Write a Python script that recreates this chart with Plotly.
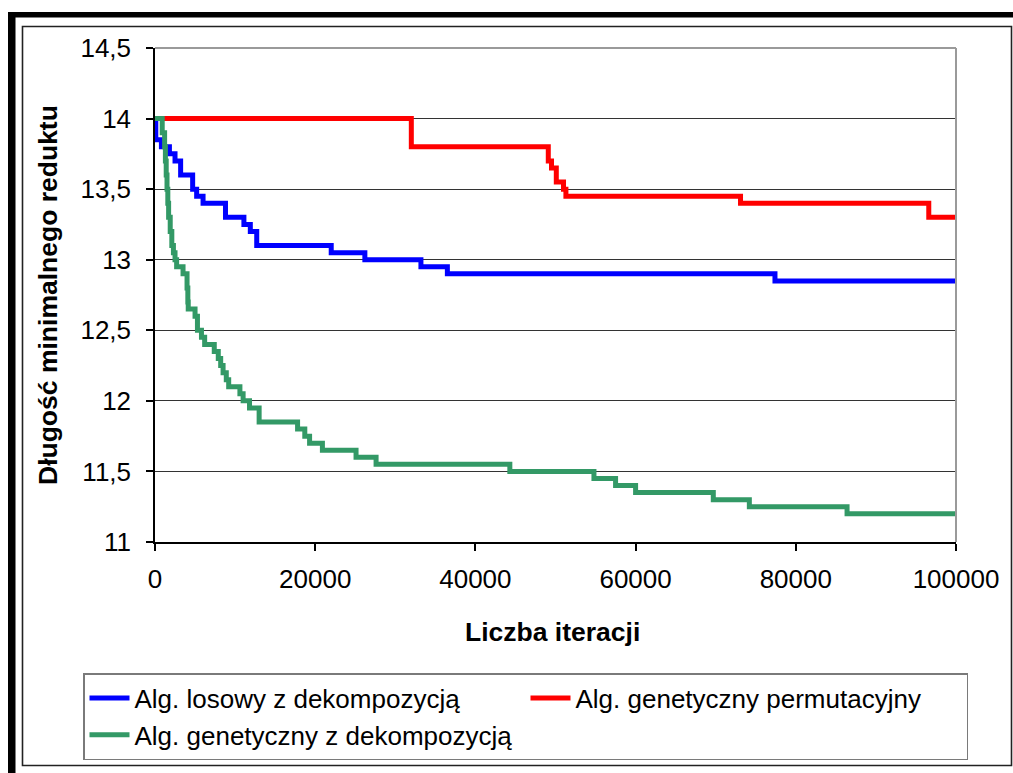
import plotly.graph_objects as go

# ---- data ----
blue_x = [0, 100, 800, 1800, 2500, 3200, 4700, 5200, 6000, 8800, 11100, 11900, 12700,
          22000, 26200, 33200, 36500, 77400, 100000]
blue_y = [14.0, 13.85, 13.8, 13.75, 13.7, 13.6, 13.5, 13.45, 13.4, 13.3, 13.25, 13.2, 13.1,
          13.05, 13.0, 12.95, 12.9, 12.85, 12.85]

red_x = [0, 32000, 49100, 49500, 50100, 51000, 51300, 73100, 96600, 100000]
red_y = [14.0, 13.8, 13.7, 13.65, 13.55, 13.5, 13.45, 13.4, 13.3, 13.3]

green_x = [0, 900, 1200, 1300, 1400, 1500, 1600, 1700, 1900, 2100, 2300, 2500, 2700, 3500,
           4000, 4100, 4150, 5000, 5300, 5800, 6200, 7400, 7900, 8200, 8500, 8900, 9200,
           10600, 11000, 11800, 13000, 17800, 18700, 19300, 20900, 25100, 27600, 44300,
           54800, 57500, 60000, 69700, 74200, 86400, 100000]
green_y = [14.0, 13.9, 13.8, 13.7, 13.6, 13.5, 13.4, 13.3, 13.2, 13.1, 13.05, 13.0, 12.95, 12.9,
           12.8, 12.7, 12.65, 12.6, 12.5, 12.45, 12.4, 12.35, 12.3, 12.25, 12.2, 12.15, 12.1,
           12.05, 12.0, 11.95, 11.85, 11.8, 11.75, 11.7, 11.65, 11.6, 11.55, 11.5,
           11.45, 11.4, 11.35, 11.3, 11.25, 11.2, 11.2]

series_names = ["Alg. losowy z dekompozycją", "Alg. genetyczny permutacyjny",
                "Alg. genetyczny z dekompozycją"]

x_tick_vals = [0, 20000, 40000, 60000, 80000, 100000]
x_tick_text = ["0", "20000", "40000", "60000", "80000", "100000"]
y_tick_vals = [11, 11.5, 12, 12.5, 13, 13.5, 14, 14.5]
y_tick_text = ["11", "11,5", "12", "12,5", "13", "13,5", "14", "14,5"]

x_title = "Liczba iteracji"
y_title = "Długość minimalnego reduktu"

# ---- layout geometry (pixels) ----
FW, FH = 1013, 773
L, R, T, B = 155, 956, 48, 542
W, H = R - L, B - T


def px(x):
    return (x - L) / W


def py(y):
    return (B - y) / H


FONT = "Liberation Sans, Arial, sans-serif"
TICK_SIZE = 26
TITLE_SIZE = 26.5
LEG_SIZE = 26

fig = go.Figure()
fig.add_trace(go.Scatter(x=blue_x, y=blue_y, name=series_names[0], mode="lines",
                         line=dict(color="#0000FF", width=5, shape="hv")))
fig.add_trace(go.Scatter(x=red_x, y=red_y, name=series_names[1], mode="lines",
                         line=dict(color="#FF0000", width=5, shape="hv")))
fig.add_trace(go.Scatter(x=green_x, y=green_y, name=series_names[2], mode="lines",
                         line=dict(color="#339966", width=5, shape="hv")))

shapes = [
    # thick black outer frame (top and left)
    dict(type="rect", xref="paper", yref="paper", x0=px(8), x1=px(1013), y0=py(17.5), y1=py(12),
         fillcolor="black", line=dict(width=0), layer="above"),
    dict(type="rect", xref="paper", yref="paper", x0=px(8), x1=px(15.5), y0=py(773), y1=py(12),
         fillcolor="black", line=dict(width=0), layer="above"),
    # thin inner chart frame
    dict(type="rect", xref="paper", yref="paper", x0=px(22.5), x1=px(1011.5), y0=py(765.5), y1=py(26.5),
         line=dict(color="#222222", width=1.6), layer="below"),
    # plot area border top & right (gray)
    dict(type="line", xref="paper", yref="paper", x0=0, x1=1, y0=1, y1=1,
         line=dict(color="#9a9a9a", width=2)),
    dict(type="line", xref="paper", yref="paper", x0=1, x1=1, y0=0, y1=1,
         line=dict(color="#9a9a9a", width=2)),
]

annotations = [
    dict(text="<b>" + x_title + "</b>", xref="paper", yref="paper", x=px(552), y=py(632),
         showarrow=False, font=dict(family=FONT, size=TITLE_SIZE, color="black"),
         xanchor="center", yanchor="middle"),
    dict(text="<b>" + y_title + "</b>", xref="paper", yref="paper", x=px(48), y=py(295),
         showarrow=False, textangle=-90, font=dict(family=FONT, size=TITLE_SIZE, color="black"),
         xanchor="center", yanchor="middle"),
]

fig.update_layout(
    width=FW, height=FH,
    margin=dict(l=L, r=FW - R, t=T, b=FH - B),
    paper_bgcolor="white", plot_bgcolor="white",
    font=dict(family=FONT, size=TICK_SIZE, color="black"),
    showlegend=True,
    legend=dict(orientation="h", x=px(83), y=py(673), xanchor="left", yanchor="top",
                bordercolor="#7a7a7a", borderwidth=1.5, bgcolor="white",
                font=dict(family=FONT, size=LEG_SIZE, color="black"),
                entrywidth=386, entrywidthmode="pixels", itemwidth=40,
                traceorder="normal"),
    xaxis=dict(range=[0, 100000], tickvals=x_tick_vals, ticktext=x_tick_text,
               showgrid=False, zeroline=False, showline=True, linecolor="black", linewidth=1.5,
               ticks="outside", ticklen=7, tickcolor="black", tickwidth=1.5,
               ticklabelstandoff=6,
               tickfont=dict(family=FONT, size=TICK_SIZE, color="black")),
    yaxis=dict(range=[11, 14.5], tickvals=y_tick_vals, ticktext=y_tick_text,
               showgrid=True, gridcolor="#333333", gridwidth=1.2,
               zeroline=False, showline=True, linecolor="black", linewidth=1.5,
               ticks="outside", ticklen=7, tickcolor="black", tickwidth=1.5,
               ticklabelstandoff=10,
               tickfont=dict(family=FONT, size=TICK_SIZE, color="black")),
    shapes=shapes,
    annotations=annotations,
)

fig.write_html("out.html")
